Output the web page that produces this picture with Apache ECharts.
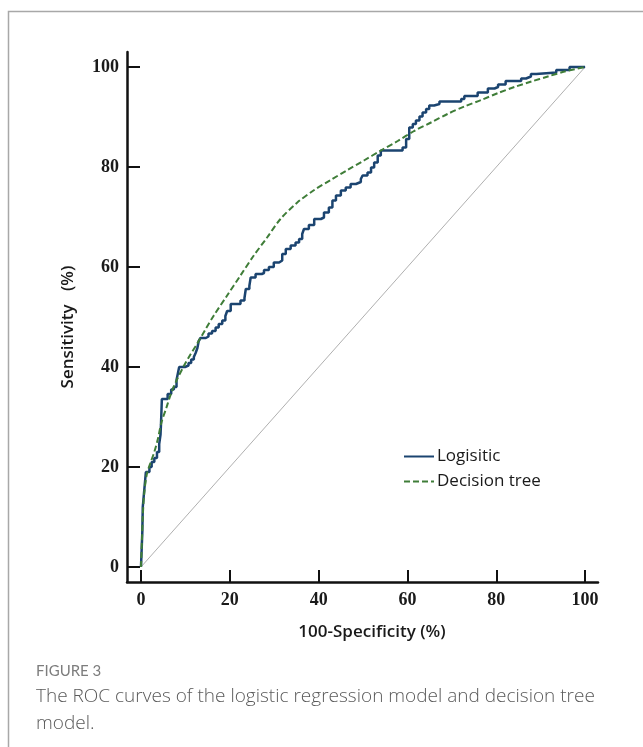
<!DOCTYPE html>
<html><head><meta charset="utf-8">
<script src="https://cdn.jsdelivr.net/npm/echarts@6/dist/echarts.min.js"></script>
<style>html,body{margin:0;padding:0;background:#fff}#c{width:643px;height:747px}</style>
</head><body><div id="c"></div>
<script>
const xTicks = [0, 20, 40, 60, 80, 100];
const yTicks = [0, 20, 40, 60, 80, 100];
const seriesNames = ['Logisitic', 'Decision tree'];
const logistic = [
  [0,0],[0.3,7],[0.4,12],[0.6,14],[0.9,17],[1.1,19],[1.9,20],[2.4,21],[3.0,21.8],[3.6,23],
  [4.1,24.6],[4.4,26.5],[4.5,28.5],[4.7,33.6],[6.0,34.6],[6.8,35.5],[7.4,36],[8.0,37.4],[8.3,38.7],[8.6,40],
  [9.9,40.3],[10.7,40.8],[11.3,41.5],[11.9,42],[12.3,42.8],[12.7,43.8],[13.0,45.2],[13.4,45.8],[14.6,46.1],[15.2,46.7],
  [16.0,47.2],[16.8,47.9],[17.5,48.6],[18.3,49.3],[19.0,50.2],[19.4,51.2],[20.2,52.6],[22.4,53.3],[23.3,53.8],[23.6,55.6],
  [24.4,56.2],[24.7,57.9],[25.8,58.6],[27.2,58.8],[27.7,59.4],[28.8,60],[29.9,60.9],[31.1,61.3],[31.8,62.6],[32.6,63.6],
  [33.7,64.3],[34.8,64.9],[35.6,65.6],[36.3,66.6],[36.7,67.6],[37.8,68.4],[39,69.6],[40.5,69.9],[41.2,70.9],[42.3,71.9],
  [43.1,73.3],[43.9,74.3],[45,75.3],[46.1,75.9],[47.2,76.6],[48.4,77],[49.5,77.6],[49.9,78.3],[51,78.9],[51.8,79.9],
  [52.5,80.9],[53.3,82.3],[54,83.3],[58.9,83.9],[59.7,85.6],[60.4,87.9],[61.2,88.6],[61.9,89.3],[62.7,90.1],[63.4,90.9],
  [64.2,91.6],[64.9,92.3],[66,92.6],[67.2,93.1],[72.1,93.6],[72.8,94.2],[75.8,94.9],[78.1,95.7],[79.6,96],[80.4,96.5],
  [82.1,97.2],[85.6,97.7],[86.7,98.1],[87.8,98.6],[89,98.9],[93.5,99.4],[96.5,100],[100,100]
];
const decisionTree = [
  [0,0],[0.2,5],[0.4,10],[0.7,14.5],[1.3,18.5],[2.2,21],[3.0,23],[3.8,25.6],[4.6,28.9],[5.7,31.8],
  [6.8,34.8],[8,37.3],[9.7,40.3],[11,42.3],[12.6,44.6],[14.5,47.5],[16.4,50.3],[19.4,54.3],[22.4,58.3],[25.4,62.3],
  [28.4,65.9],[31.4,69.6],[35.2,72.9],[39,75.4],[42.7,77.4],[46.5,79.4],[50.2,81.3],[54,83.3],[57.8,85.2],[61.5,87.2],
  [65.3,88.9],[69,90.6],[72.8,92.1],[76.6,93.4],[80.4,94.8],[84.1,96],[87.9,97.1],[91.6,98.1],[95.4,99.1],[100,100]
];
const chanceLine = [[0,0],[100,100]];

const chart = echarts.init(document.getElementById('c'), null, {renderer: 'canvas'});
const tickFont = {fontFamily: 'Liberation Serif', fontWeight: 'bold', fontSize: 18, color: '#1a1a1a'};
chart.setOption({
  animation: false,
  backgroundColor: '#fff',
  grid: {left: 127, right: 45, top: 52, bottom: 165, containLabel: false},
  xAxis: {
    type: 'value', min: -3.15, max: 102.9,
    axisLine: {show: true, onZero: false, lineStyle: {color: '#111', width: 2.5}},
    axisTick: {show: true, inside: true, length: 12, customValues: xTicks, lineStyle: {color: '#111', width: 2}},
    axisLabel: Object.assign({customValues: xTicks, margin: 9}, tickFont),
    splitLine: {show: false}
  },
  yAxis: {
    type: 'value', min: -3, max: 103,
    axisLine: {show: true, onZero: false, lineStyle: {color: '#111', width: 2.5}},
    axisTick: {show: true, inside: true, length: 13, customValues: yTicks, lineStyle: {color: '#111', width: 2}},
    axisLabel: Object.assign({customValues: yTicks, margin: 8}, tickFont),
    splitLine: {show: false}
  },
  legend: {
    orient: 'vertical', left: 398, top: 443, itemWidth: 30, itemHeight: 14, itemGap: 8,
    data: seriesNames,
    itemStyle: {opacity: 0},
    textStyle: {fontFamily: 'Open Sans', fontSize: 17, color: '#1a1a1a', padding: [0, 0, 0, -2]}
  },
  series: [
    {type: 'line', data: chanceLine, symbol: 'none', silent: true,
     lineStyle: {color: '#b0b0b0', width: 1}, z: 1},
    {name: seriesNames[0], type: 'line', data: logistic, step: 'end', symbol: 'none',
     lineStyle: {color: '#1b4470', width: 2.5}, itemStyle: {color: '#1b4470'}, z: 3},
    {name: seriesNames[1], type: 'line', data: decisionTree, smooth: 0.3, symbol: 'none',
     lineStyle: {color: '#3f7d38', width: 2, type: [6, 3]}, itemStyle: {color: '#3f7d38'}, z: 4}
  ],
  graphic: [
    {type: 'polyline', shape: {points: [[8.5, 747], [8.5, 11.5], [643, 11.5]]}, style: {stroke: '#a8a8a8', lineWidth: 1.5, fill: null}, silent: true},
    {type: 'text', x: 68, y: 327, rotation: Math.PI / 2,
     style: {text: 'Sensitivity   (%)', fontFamily: 'Open Sans', fontWeight: 600, fontSize: 17, fill: '#1a1a1a', align: 'center', verticalAlign: 'middle'}},
    {type: 'text', x: 372, y: 632,
     style: {text: '100-Specificity (%)', fontFamily: 'Open Sans', fontWeight: 600, fontSize: 17, fill: '#1a1a1a', align: 'center', verticalAlign: 'middle'}},
    {type: 'text', x: 36, y: 671,
     style: {text: 'FIGURE 3', fontFamily: 'Lato', fontSize: 15, fill: '#7d7d7d', verticalAlign: 'middle'}},
    {type: 'text', x: 36, y: 697,
     style: {text: 'The ROC curves of the logistic regression model and decision tree', fontFamily: 'Open Sans', fontWeight: 300, fontSize: 19, fill: '#5a5a5a', verticalAlign: 'middle'}},
    {type: 'text', x: 36, y: 724,
     style: {text: 'model.', fontFamily: 'Open Sans', fontWeight: 300, fontSize: 19, fill: '#5a5a5a', verticalAlign: 'middle'}}
  ]
});
</script>
</body></html>
